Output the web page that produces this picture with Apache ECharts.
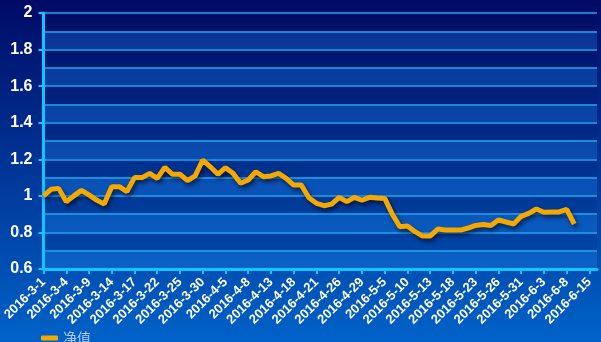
<!DOCTYPE html>
<html>
<head>
<meta charset="utf-8">
<script src="https://cdn.jsdelivr.net/npm/echarts@6/dist/echarts.min.js"></script>
<style>
  html, body { margin: 0; padding: 0; }
  #chart { width: 601px; height: 342px; }
</style>
</head>
<body>
<div id="chart"></div>
<script>
// Trading days, 2016-3-1 .. 2016-6-16
const dates = [
  '2016-3-1','2016-3-2','2016-3-3','2016-3-4','2016-3-7','2016-3-8','2016-3-9','2016-3-10','2016-3-11',
  '2016-3-14','2016-3-15','2016-3-16','2016-3-17','2016-3-18','2016-3-21','2016-3-22','2016-3-23','2016-3-24',
  '2016-3-25','2016-3-28','2016-3-29','2016-3-30','2016-3-31','2016-4-1','2016-4-5','2016-4-6','2016-4-7',
  '2016-4-8','2016-4-11','2016-4-12','2016-4-13','2016-4-14','2016-4-15','2016-4-18','2016-4-19','2016-4-20',
  '2016-4-21','2016-4-22','2016-4-25','2016-4-26','2016-4-27','2016-4-28','2016-4-29','2016-5-3','2016-5-4',
  '2016-5-5','2016-5-6','2016-5-9','2016-5-10','2016-5-11','2016-5-12','2016-5-13','2016-5-16','2016-5-17',
  '2016-5-18','2016-5-19','2016-5-20','2016-5-23','2016-5-24','2016-5-25','2016-5-26','2016-5-27','2016-5-30',
  '2016-5-31','2016-6-1','2016-6-2','2016-6-3','2016-6-6','2016-6-7','2016-6-8','2016-6-13','2016-6-14',
  '2016-6-15','2016-6-16'
];

// Net value per trading day
const netValue = [
  1.000, 1.036, 1.041, 0.968, 1.000, 1.030, 1.005, 0.977, 0.955,
  1.050, 1.050, 1.023, 1.100, 1.100, 1.123, 1.096, 1.156, 1.118,
  1.118, 1.083, 1.109, 1.196, 1.159, 1.118, 1.154, 1.123, 1.069,
  1.087, 1.132, 1.105, 1.109, 1.123, 1.096, 1.059, 1.059, 0.990,
  0.959, 0.946, 0.955, 0.992, 0.968, 0.992, 0.976, 0.992, 0.988,
  0.986, 0.900, 0.831, 0.835, 0.804, 0.780, 0.780, 0.819, 0.813,
  0.813, 0.813, 0.824, 0.838, 0.843, 0.838, 0.868, 0.857, 0.846,
  0.888, 0.904, 0.928, 0.910, 0.912, 0.912, 0.926, 0.846
];

const seriesName = '净值';
const yMin = 0.6, yMax = 2, yStep = 0.2, bandStep = 0.1;

const axisCyan = '#12c4ff';
const gridCyan = '#22a6ee';

const chart = echarts.init(document.getElementById('chart'), null, { renderer: 'canvas' });
chart.setOption({
  animation: false,
  backgroundColor: new echarts.graphic.LinearGradient(0, 0, 0, 1, [
    { offset: 0, color: '#000a66' },
    { offset: 1, color: '#0062c8' }
  ]),
  grid: { left: 40, right: 4, top: 13, bottom: 73 },
  legend: {
    data: [seriesName],
    left: 36, top: 326,
    icon: 'roundRect', itemWidth: 17, itemHeight: 5, itemGap: 10,
    textStyle: { color: '#b4c8ea', fontSize: 14, fontFamily: 'Noto Sans CJK SC' }
  },
  xAxis: {
    type: 'category',
    data: dates,
    boundaryGap: false,
    axisLine: { lineStyle: { color: axisCyan, width: 3 } },
    axisTick: { interval: 2, length: 5, lineStyle: { color: axisCyan, width: 2 } },
    axisLabel: {
      interval: 2, rotate: 45, margin: 11,
      color: '#ffffff', fontWeight: 'bold', fontSize: 13,
      fontFamily: 'Liberation Sans'
    },
    splitLine: { show: false }
  },
  yAxis: [{
    type: 'value',
    min: yMin, max: yMax, interval: yStep,
    axisLine: { show: true, lineStyle: { color: axisCyan, width: 3 } },
    axisTick: { show: true, length: 5, lineStyle: { color: axisCyan, width: 2 } },
    axisLabel: {
      margin: 11, color: '#ffffff', fontWeight: 'bold', fontSize: 16,
      fontFamily: 'Liberation Sans',
      formatter: v => String(+v.toFixed(1))
    },
    splitLine: { show: false }
  }, {
    // finer bands and grid lines every 0.1
    type: 'value',
    min: yMin, max: yMax, interval: bandStep,
    position: 'left',
    axisLine: { show: false }, axisTick: { show: false }, axisLabel: { show: false },
    splitLine: { show: true, lineStyle: { color: gridCyan, width: 1.5 } },
    splitArea: { show: true, areaStyle: { color: ['rgba(40,150,255,0.26)', 'rgba(0,0,30,0.06)'] } }
  }],
  series: [{
    name: seriesName,
    type: 'line',
    data: netValue,
    yAxisIndex: 0,
    symbol: 'none',
    color: '#f5a800',
    lineStyle: {
      color: '#f5a800', width: 5,
      shadowColor: 'rgba(0,0,20,0.6)', shadowBlur: 4, shadowOffsetX: 2, shadowOffsetY: 3
    },
    z: 5
  }]
});
</script>
</body>
</html>
